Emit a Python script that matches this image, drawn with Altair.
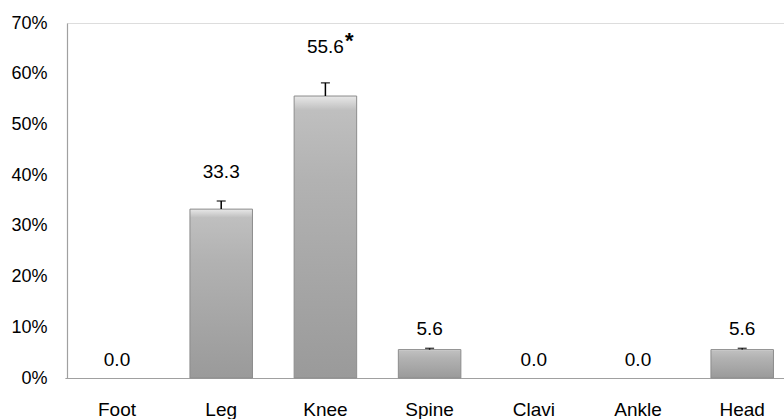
import altair as alt
import pandas as pd

categories = ["Foot", "Leg", "Knee", "Spine", "Clavi", "Ankle", "Head"]
values = [0.0, 33.3, 55.6, 5.6, 0.0, 0.0, 5.6]
err_hi = [0.0, 34.9, 58.2, 5.85, 0.0, 0.0, 5.85]
sig = ["", "", "*", "", "", "", ""]

df = pd.DataFrame({"cat": categories, "val": values, "hi": err_hi, "sig": sig})
df["lab"] = [f"{v:.1f}" for v in values]

FONT = "Liberation Sans, Arial, sans-serif"

x = alt.X("cat:N", sort=categories, title=None,
          scale=alt.Scale(range=[-2.1, 727.3], paddingInner=0.4, paddingOuter=0.2),
          axis=alt.Axis(labelAngle=0, ticks=False, domainColor="#a0a0a0", domainWidth=1.2,
                        labelFontSize=19, labelFont=FONT, labelColor="#000000",
                        labelPadding=22))
y_scale = alt.Scale(domain=[0, 70])
y_axis = alt.Axis(values=[0, 10, 20, 30, 40, 50, 60, 70], labelExpr="datum.value + '%'",
                  ticks=False, grid=False, domainColor="#a0a0a0", domainWidth=1.2,
                  labelFontSize=18, labelFont=FONT, labelColor="#000000", labelPadding=20)

base = alt.Chart(df)

grad = alt.Gradient(
    gradient="linear",
    stops=[
        alt.GradientStop(color="#e8e8e8", offset=0),
        alt.GradientStop(color="#bfbfbf", offset=0.05),
        alt.GradientStop(color="#b2b2b2", offset=0.3),
        alt.GradientStop(color="#9a9a9a", offset=1),
    ],
    x1=0, x2=0, y1=0, y2=1,
)

bars = base.transform_filter("datum.val > 0").mark_bar(
    fill=grad, stroke="#8c8c8c", strokeWidth=1
).encode(
    x=x,
    y=alt.Y("val:Q", scale=y_scale, axis=y_axis, title=None),
)

err = base.transform_filter("datum.hi > datum.val").mark_rule(color="#000000", strokeWidth=1.5).encode(
    x=alt.X("cat:N", sort=categories),
    y=alt.Y("val:Q"),
    y2="hi:Q",
)
caps = base.transform_filter("datum.hi > datum.val").mark_tick(
    color="#000000", size=9, thickness=1.5, orient="horizontal"
).encode(
    x=alt.X("cat:N", sort=categories),
    y=alt.Y("hi:Q"),
)

labels = base.transform_calculate(
    ly="datum.hi + 3.5 + 0.065 * datum.val"
).mark_text(font=FONT, fontSize=19, color="#000000", baseline="middle").encode(
    x=alt.X("cat:N", sort=categories),
    y=alt.Y("ly:Q"),
    text="lab:N",
)

stars = base.transform_filter("datum.sig != ''").transform_calculate(
    ly="datum.hi + 3.5 + 0.065 * datum.val"
).mark_text(font=FONT, fontSize=22, fontWeight="bold", color="#000000",
            baseline="middle", dx=24, dy=-6).encode(
    x=alt.X("cat:N", sort=categories),
    y=alt.Y("ly:Q"),
    text="sig:N",
)

chart = alt.layer(bars, err, caps, labels, stars).properties(
    width=717, height=355,
    autosize=alt.AutoSizeParams(type="none"),
    padding={"left": 67, "top": 23, "right": 0, "bottom": 41},
).configure_view(stroke=None).configure(background="#ffffff")

chart.save("out.html", embed_options={"renderer": "svg", "actions": False})
